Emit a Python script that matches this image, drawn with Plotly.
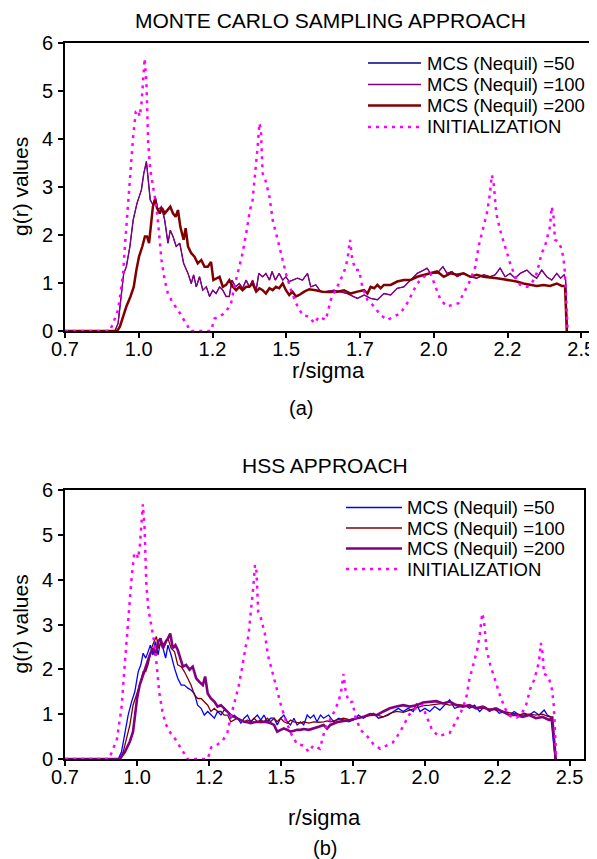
import plotly.graph_objects as go

# ---------------- data ----------------
x_tick_vals = [0.7, 0.95, 1.2, 1.45, 1.7, 1.95, 2.2, 2.45]
x_tick_text = ["0.7", "1.0", "1.2", "1.5", "1.7", "2.0", "2.2", "2.5"]
y_tick_vals = [0, 1, 2, 3, 4, 5, 6]

series_names = ["MCS (Nequil) =50", "MCS (Nequil) =100", "MCS (Nequil) =200", "INITIALIZATION"]
panel_titles = ["MONTE CARLO SAMPLING APPROACH", "HSS APPROACH"]
panel_labels = ["(a)", "(b)"]

# INITIALIZATION (same in both panels)
init_r = [0.7, 0.852, 0.863, 0.880, 0.891, 0.897, 0.903, 0.914, 0.922, 0.931,
          0.940, 0.948, 0.953, 0.959, 0.965, 0.970, 0.976, 0.982, 0.989, 0.998,
          1.010, 1.019, 1.027, 1.038, 1.049, 1.066, 1.083, 1.100, 1.117, 1.122,
          1.195, 1.207, 1.224, 1.246, 1.263, 1.274, 1.291, 1.302, 1.314, 1.327,
          1.336, 1.345, 1.353, 1.359, 1.364, 1.370, 1.379, 1.393, 1.404, 1.421,
          1.435, 1.449, 1.466, 1.483, 1.505, 1.528, 1.545, 1.561, 1.584, 1.601,
          1.617, 1.634, 1.648, 1.657, 1.666, 1.674, 1.685, 1.697, 1.708, 1.725,
          1.748, 1.770, 1.793, 1.815, 1.837, 1.860, 1.877, 1.894, 1.916, 1.939,
          1.956, 1.973, 1.995, 2.012, 2.034, 2.051, 2.074, 2.091, 2.102, 2.113,
          2.130, 2.139, 2.147, 2.153, 2.162, 2.175, 2.192, 2.209, 2.226, 2.243,
          2.266, 2.282, 2.299, 2.316, 2.327, 2.339, 2.344, 2.350, 2.356, 2.361,
          2.372, 2.380, 2.389, 2.395, 2.400, 2.404]
init_g = [0, 0, 0.16, 0.44, 0.92, 1.20, 1.76, 2.73, 3.42, 4.05,
          4.57, 4.60, 4.47, 4.71, 5.23, 5.68, 5.16, 3.91, 3.35, 3.01,
          2.59, 2.03, 1.48, 1.06, 0.78, 0.58, 0.44, 0.26, 0.09, 0,
          0, 0.26, 0.30, 0.40, 0.58, 0.92, 1.34, 1.62, 2.03, 2.52,
          2.73, 3.28, 3.84, 4.33, 4.19, 3.28, 3.15, 2.80, 2.31, 1.90,
          1.55, 1.20, 0.85, 0.58, 0.33, 0.30, 0.16, 0.30, 0.23, 0.65,
          0.85, 1.06, 1.27, 1.48, 1.90, 1.48, 1.27, 1.27, 0.92, 0.65,
          0.51, 0.33, 0.23, 0.30, 0.37, 0.58, 0.78, 0.99, 1.13, 1.20,
          0.92, 0.65, 0.51, 0.54, 0.58, 0.78, 1.06, 1.34, 1.76, 2.03,
          2.45, 2.80, 3.25, 3.08, 2.45, 2.10, 1.76, 1.41, 1.13, 0.96,
          0.92, 0.99, 1.20, 1.62, 1.76, 2.03, 2.17, 2.59, 2.38, 1.90,
          1.86, 1.76, 1.55, 1.20, 0.65, 0]

# Panel (a): Monte Carlo sampling
mc_r_100 = [0.7, 0.869, 0.880, 0.891, 0.899, 0.908, 0.920, 0.931, 0.944, 0.959,
            0.967, 0.976, 0.982, 0.989, 0.998, 1.006, 1.015, 1.027, 1.038, 1.049,
            1.057, 1.066, 1.077, 1.089, 1.102, 1.117, 1.128, 1.136, 1.145, 1.156,
            1.167, 1.179, 1.190, 1.201, 1.212, 1.224, 1.235, 1.246, 1.257, 1.266,
            1.278, 1.291, 1.302, 1.314, 1.325, 1.336, 1.348, 1.357, 1.370, 1.381,
            1.393, 1.402, 1.413, 1.426, 1.438, 1.449, 1.460, 1.471, 1.488, 1.505,
            1.522, 1.533, 1.550, 1.567, 1.584,
            1.612, 1.634, 1.657, 1.691, 1.714, 1.736, 1.759, 1.781, 1.804, 1.826,
            1.849, 1.871, 1.894, 1.916, 1.927, 1.939, 1.961, 1.981, 1.995, 2.012,
            2.029, 2.051, 2.074, 2.096, 2.119, 2.141, 2.158, 2.175, 2.192, 2.209,
            2.226, 2.243, 2.266, 2.282, 2.299, 2.316, 2.333, 2.350, 2.367, 2.380,
            2.392, 2.397, 2.402]
mc_g_100 = [0, 0, 0.16, 0.78, 1.20, 1.34, 1.76, 2.31, 2.66, 2.94,
            3.28, 3.53, 3.15, 2.73, 2.63, 2.80, 2.52, 2.59, 2.31, 1.83,
            2.10, 1.97, 1.76, 1.83, 1.41, 1.20, 0.99, 1.17, 0.92, 1.13,
            0.85, 0.92, 0.72, 0.85, 0.78, 0.92, 0.85, 0.72, 0.72, 1.06,
            0.92, 0.99, 0.89, 1.06, 0.92, 1.06, 0.85, 1.20, 1.13, 1.20,
            1.06, 1.24, 1.06, 1.20, 1.06, 1.13, 1.03, 1.06, 1.10, 1.06,
            1.20, 0.92, 0.96, 0.82, 0.82,
            0.85, 0.82, 0.78, 0.68, 0.75, 0.68, 0.65, 0.78, 0.75, 0.89,
            0.92, 1.06, 1.20, 1.27, 1.31, 1.20, 1.20, 1.34, 1.20, 1.24,
            1.13, 1.20, 1.13, 1.10, 1.17, 1.13, 1.17, 1.31, 1.13, 1.20,
            1.10, 1.20, 1.27, 1.17, 1.10, 1.27, 1.13, 1.06, 1.20, 1.10,
            1.17, 1.06, 0]
# Nequil=50 curve is hidden beneath the Nequil=100 curve in the source figure
mc_r_50 = list(mc_r_100)
mc_g_50 = list(mc_g_100)

mc_r_200 = [0.7, 0.877, 0.886, 0.897, 0.908, 0.922, 0.933, 0.942, 0.951, 0.962,
            0.971, 0.978, 0.985, 0.992, 0.998, 1.006, 1.012, 1.021, 1.029, 1.038,
            1.046, 1.057, 1.066, 1.075, 1.083, 1.091, 1.102, 1.109, 1.117, 1.128,
            1.139, 1.150, 1.162, 1.173, 1.184, 1.195, 1.203, 1.215, 1.224, 1.235,
            1.246, 1.257, 1.269, 1.280, 1.291, 1.302, 1.314, 1.325, 1.336, 1.348,
            1.359, 1.370, 1.381, 1.393, 1.404, 1.415, 1.426, 1.438, 1.449, 1.460,
            1.471, 1.483, 1.494, 1.511, 1.528, 1.550, 1.573, 1.595,
            1.624, 1.646, 1.668, 1.691, 1.714, 1.725, 1.736, 1.748, 1.759, 1.770,
            1.781, 1.804, 1.826, 1.849, 1.871, 1.894, 1.916, 1.939, 1.961, 1.984,
            2.007, 2.029, 2.051, 2.074, 2.096, 2.119, 2.141, 2.164, 2.186, 2.209,
            2.231, 2.254, 2.277, 2.299, 2.322, 2.344, 2.367, 2.384, 2.395, 2.401]
mc_g_200 = [0, 0, 0.09, 0.30, 0.51, 0.72, 0.92, 1.27, 1.55, 1.76,
            1.97, 1.97, 1.83, 2.24, 2.59, 2.73, 2.56, 2.45, 2.56, 2.45,
            2.52, 2.59, 2.45, 2.38, 2.52, 2.17, 1.90, 2.14, 1.76, 1.62,
            1.55, 1.41, 1.48, 1.34, 1.34, 1.44, 1.06, 1.10, 1.13, 0.92,
            0.96, 1.06, 0.92, 0.85, 0.92, 0.85, 0.92, 0.92, 0.99, 0.82,
            0.89, 0.85, 0.78, 0.89, 0.85, 0.92, 0.89, 0.99, 0.85, 0.75,
            0.82, 0.72, 0.75, 0.82, 0.87, 0.85, 0.82, 0.81,
            0.82, 0.85, 0.78, 0.82, 0.85, 0.78, 0.92, 0.89, 0.96, 0.89,
            0.96, 0.96, 1.03, 1.06, 1.06, 1.13, 1.17, 1.20, 1.24, 1.13,
            1.20, 1.17, 1.20, 1.13, 1.17, 1.13, 1.12, 1.10, 1.08, 1.06,
            1.03, 0.99, 0.96, 0.94, 0.96, 0.94, 0.99, 0.94, 0.94, 0]

# Panel (b): HSS
hss_r_50 = [0.7, 0.885, 0.896, 0.908, 0.919, 0.931, 0.942, 0.954, 0.963, 0.971,
            0.980, 0.988, 0.996, 1.005, 1.013, 1.023, 1.031, 1.040, 1.049, 1.057,
            1.068, 1.080, 1.091, 1.103, 1.114, 1.126, 1.137, 1.149, 1.160, 1.172,
            1.183, 1.195, 1.206, 1.218, 1.229, 1.241, 1.252, 1.264, 1.275, 1.287,
            1.298, 1.310, 1.321, 1.333, 1.344, 1.356, 1.367, 1.379, 1.390, 1.402,
            1.413, 1.425, 1.436, 1.448, 1.459, 1.471, 1.482, 1.494, 1.505, 1.517,
            1.528, 1.540, 1.551, 1.563, 1.574, 1.586, 1.597,
            1.614, 1.632, 1.649, 1.666, 1.684, 1.701, 1.718, 1.735, 1.753, 1.770,
            1.787, 1.804, 1.821, 1.839, 1.856, 1.873, 1.890, 1.908, 1.919, 1.931,
            1.948, 1.965, 1.982, 2.000, 2.017, 2.034, 2.051, 2.069, 2.086, 2.103,
            2.120, 2.138, 2.155, 2.172, 2.189, 2.206, 2.224, 2.241, 2.258, 2.275,
            2.293, 2.310, 2.327, 2.344, 2.362, 2.373, 2.385, 2.400]
hss_g_50 = [0, 0, 0.16, 0.61, 0.98, 1.28, 1.50, 1.95, 2.10, 2.36,
            2.25, 2.39, 2.54, 2.32, 2.62, 2.32, 2.62, 2.47, 2.25, 2.54,
            2.32, 2.02, 1.80, 1.65, 1.65, 1.58, 1.54, 1.46, 1.20, 1.13,
            0.98, 1.06, 0.98, 0.91, 1.06, 0.98, 1.09, 1.06, 0.91, 0.98,
            0.91, 0.80, 0.91, 0.98, 0.83, 0.91, 0.98, 0.87, 0.98, 0.83,
            0.91, 0.91, 0.76, 0.91, 0.98, 0.83, 0.76, 0.91, 0.76, 0.83,
            0.76, 0.98, 0.91, 0.98, 0.83, 0.98, 0.91,
            0.98, 0.83, 0.91, 0.87, 0.83, 0.87, 0.98, 0.91, 0.98, 1.02,
            0.91, 0.94, 0.98, 1.06, 1.13, 1.06, 1.13, 1.06, 1.24, 1.06,
            1.13, 1.06, 1.17, 1.09, 1.20, 1.32, 1.13, 1.17, 1.20, 1.13,
            1.20, 1.06, 1.17, 1.06, 1.13, 1.02, 1.06, 0.98, 1.06, 0.98,
            1.02, 0.98, 1.06, 0.98, 1.09, 0.98, 0.94, 0]

hss_r_100 = [0.7, 0.890, 0.902, 0.913, 0.925, 0.936, 0.948, 0.959, 0.971, 0.980,
             0.988, 1.000, 1.009, 1.017, 1.025, 1.034, 1.046, 1.057, 1.068, 1.080,
             1.091, 1.103, 1.114, 1.126, 1.137, 1.149, 1.160, 1.172, 1.183, 1.195,
             1.206, 1.218, 1.229, 1.241, 1.252, 1.264, 1.275, 1.287, 1.298, 1.310,
             1.321, 1.333, 1.344, 1.356, 1.367, 1.379, 1.390, 1.402, 1.413, 1.425,
             1.436, 1.448, 1.459, 1.471, 1.482, 1.494, 1.505, 1.517, 1.528, 1.546,
             1.563, 1.580, 1.597, 1.609,
             1.620, 1.643, 1.666, 1.689, 1.712, 1.735, 1.758, 1.781, 1.804, 1.827,
             1.850, 1.873, 1.896, 1.919, 1.942, 1.965, 1.988, 2.011, 2.034, 2.057,
             2.080, 2.103, 2.126, 2.149, 2.172, 2.195, 2.218, 2.241, 2.264, 2.287,
             2.310, 2.333, 2.356, 2.379, 2.390, 2.400]
hss_g_100 = [0, 0, 0.16, 0.46, 0.76, 1.20, 1.43, 1.65, 1.95, 1.95,
             2.10, 2.47, 2.62, 2.73, 2.47, 2.62, 2.54, 2.69, 2.47, 2.39,
             2.10, 2.06, 1.95, 1.80, 1.65, 1.43, 1.35, 1.35, 1.28, 1.20,
             1.06, 1.13, 1.06, 1.06, 0.98, 0.98, 0.83, 0.87, 0.91, 0.87,
             0.83, 0.87, 0.83, 0.91, 0.83, 0.87, 0.83, 0.91, 0.83, 0.91,
             0.83, 0.91, 0.83, 0.80, 0.87, 0.83, 0.82, 0.80, 0.83, 0.80,
             0.83, 0.82, 0.83, 0.85,
             0.83, 0.87, 0.91, 0.87, 0.91, 0.94, 0.97, 0.98, 0.94, 1.02,
             1.06, 1.04, 1.09, 1.14, 1.19, 1.20, 1.22, 1.24, 1.20, 1.22,
             1.20, 1.17, 1.14, 1.13, 1.12, 1.09, 1.06, 1.04, 1.00, 0.98,
             1.00, 0.98, 1.00, 0.94, 0.94, 0]

hss_r_200 = [0.7, 0.890, 0.908, 0.925, 0.936, 0.942, 0.950, 0.959, 0.971, 0.982,
             0.994, 1.005, 1.014, 1.023, 1.031, 1.040, 1.049, 1.057, 1.065, 1.074,
             1.083, 1.091, 1.100, 1.109, 1.120, 1.132, 1.143, 1.155, 1.166, 1.178,
             1.186, 1.195, 1.206, 1.218, 1.229, 1.241, 1.252, 1.264, 1.275, 1.287,
             1.298, 1.310, 1.321, 1.333, 1.344, 1.356, 1.367, 1.379, 1.390, 1.402,
             1.413, 1.425, 1.436, 1.448, 1.459, 1.471, 1.482, 1.494, 1.505, 1.517,
             1.528, 1.546, 1.563, 1.580, 1.597, 1.609,
             1.620, 1.643, 1.666, 1.689, 1.712, 1.735, 1.758, 1.781, 1.804, 1.827,
             1.850, 1.873, 1.896, 1.919, 1.942, 1.965, 1.988, 2.011, 2.034, 2.057,
             2.080, 2.103, 2.126, 2.149, 2.172, 2.195, 2.218, 2.241, 2.264, 2.287,
             2.310, 2.333, 2.356, 2.379, 2.390, 2.402]
hss_g_200 = [0, 0, 0.16, 0.39, 0.61, 0.91, 1.35, 1.65, 1.87, 2.10,
             2.32, 2.47, 2.32, 2.62, 2.69, 2.47, 2.62, 2.69, 2.80, 2.47,
             2.54, 2.43, 2.25, 2.06, 2.10, 1.99, 2.06, 1.80, 1.72, 1.65,
             1.84, 1.46, 1.35, 1.28, 1.17, 1.20, 1.13, 1.06, 0.98, 0.94,
             0.91, 0.87, 0.83, 0.82, 0.80, 0.82, 0.83, 0.82, 0.83, 0.82,
             0.80, 0.76, 0.61, 0.65, 0.68, 0.65, 0.61, 0.63, 0.65, 0.65,
             0.67, 0.65, 0.68, 0.72, 0.76, 0.68,
             0.76, 0.82, 0.85, 0.87, 0.91, 0.94, 1.00, 0.98, 1.06, 1.13,
             1.17, 1.20, 1.17, 1.20, 1.26, 1.28, 1.29, 1.24, 1.28, 1.20,
             1.17, 1.20, 1.13, 1.17, 1.09, 1.13, 1.06, 0.98, 0.98, 0.94,
             0.98, 0.91, 0.94, 0.87, 0.91, 0]

for a, b in [(init_r, init_g), (mc_r_100, mc_g_100), (mc_r_200, mc_g_200),
             (hss_r_50, hss_g_50), (hss_r_100, hss_g_100), (hss_r_200, hss_g_200)]:
    assert len(a) == len(b), (len(a), len(b))

# ---------------- styling ----------------
PAGE_W, PAGE_H = 597, 859
BODY_MARGIN = 8            # default page margin around the plot div
W, H = PAGE_W - BODY_MARGIN, PAGE_H - BODY_MARGIN
FONT = "Liberation Sans, Arial, Helvetica, sans-serif"
MAGENTA = "#FF00FF"
DOT = "3px,5px"
TICK_SIZE = 20

def fx(p):
    """page pixel x -> paper fraction"""
    return (p - BODY_MARGIN) / W

def fy(p):
    """page pixel y -> paper fraction"""
    return 1 - (p - BODY_MARGIN) / H

top_colors = ["#000080", "#800080", "#800000", MAGENTA]
top_widths = [1.0, 1.4, 2.5, 2.5]
bot_colors = ["#0000FF", "#800000", "#800080", MAGENTA]
bot_widths = [1.3, 1.3, 2.6, 2.5]

top_data = [(mc_r_50, mc_g_50), (mc_r_100, mc_g_100), (mc_r_200, mc_g_200), (init_r, init_g)]
bot_data = [(hss_r_50, hss_g_50), (hss_r_100, hss_g_100), (hss_r_200, hss_g_200), (init_r, init_g)]

fig = go.Figure()
for i, (rx, gy) in enumerate(top_data):
    fig.add_trace(go.Scatter(
        x=rx, y=gy, mode="lines", name=series_names[i], showlegend=False,
        xaxis="x", yaxis="y",
        line=dict(color=top_colors[i], width=top_widths[i],
                  dash=DOT if i == 3 else "solid")))
for i, (rx, gy) in enumerate(bot_data):
    fig.add_trace(go.Scatter(
        x=rx, y=gy, mode="lines", name=series_names[i], showlegend=False,
        xaxis="x2", yaxis="y2",
        line=dict(color=bot_colors[i], width=bot_widths[i],
                  dash=DOT if i == 3 else "solid")))

def xaxis_cfg(x0, x1, anchor):
    return dict(domain=[fx(x0), fx(x1)], anchor=anchor, range=[0.7, 2.5],
                tickmode="array", tickvals=x_tick_vals, ticktext=x_tick_text,
                ticks="outside", ticklen=5, tickwidth=1.5, tickcolor="black",
                ticklabelstandoff=-6,
                showline=True, linewidth=2, linecolor="black", mirror=True,
                showgrid=False, zeroline=False, layer="below traces",
                automargin=False,
                tickfont=dict(family=FONT, size=TICK_SIZE, color="black"))

def yaxis_cfg(y_top, y_bot, anchor):
    return dict(domain=[fy(y_bot), fy(y_top)], anchor=anchor, range=[0, 6],
                tickmode="array", tickvals=y_tick_vals,
                ticks="outside", ticklen=5, tickwidth=1.5, tickcolor="black",
                ticklabelstandoff=1,
                showline=True, linewidth=2, linecolor="black", mirror=True,
                showgrid=False, zeroline=False, layer="below traces",
                automargin=False,
                tickfont=dict(family=FONT, size=TICK_SIZE, color="black"))

annotations = []
def text(x, y, s, size, angle=0, xanchor="center"):
    annotations.append(dict(x=x, y=y, xref="paper", yref="paper", text=s,
                            showarrow=False, xanchor=xanchor, yanchor="middle",
                            textangle=angle, borderpad=0,
                            font=dict(family=FONT, size=size, color="black")))

# titles, axis titles, panel labels (positions in page pixels)
text(fx(330.5), fy(21), panel_titles[0], 21)
text(fx(324.5), fy(465.5), panel_titles[1], 21)
text(fx(20), fy(187), "g(r) values", 21, angle=-90)
text(fx(20), fy(624.5), "g(r) values", 21, angle=-90)
text(fx(328), fy(371), "r/sigma", 22)
text(fx(324), fy(817), "r/sigma", 22)
text(fx(301), fy(408), panel_labels[0], 20)
text(fx(325), fy(848), panel_labels[1], 20)

# legends (drawn manually to match the compact row spacing)
shapes = []
def legend(x_line0, x_line1, x_text, rows, colors, widths):
    for i, name in enumerate(series_names):
        yy = fy(rows[i])
        shapes.append(dict(type="line", xref="paper", yref="paper",
                           x0=fx(x_line0), x1=fx(x_line1), y0=yy, y1=yy,
                           line=dict(color=colors[i], width=max(widths[i], 1.3),
                                     dash=DOT if i == 3 else "solid")))
        text(fx(x_text), yy, name, 18.5, xanchor="left")

legend(368, 421, 426, [63, 84.5, 105.5, 127], top_colors, top_widths)
legend(346, 402, 406, [507.5, 528, 548.5, 569], bot_colors, bot_widths)

fig.update_layout(
    width=W, height=H,
    margin=dict(l=0, r=0, t=0, b=0, pad=0, autoexpand=False),
    paper_bgcolor="white", plot_bgcolor="white",
    showlegend=False,
    font=dict(family=FONT, color="black"),
    xaxis=xaxis_cfg(65, 596, "y"),
    yaxis=yaxis_cfg(43, 331, "x"),
    xaxis2=xaxis_cfg(65, 584, "y2"),
    yaxis2=yaxis_cfg(490, 759, "x2"),
    annotations=annotations,
    shapes=shapes,
)

fig.write_html("out.html")
